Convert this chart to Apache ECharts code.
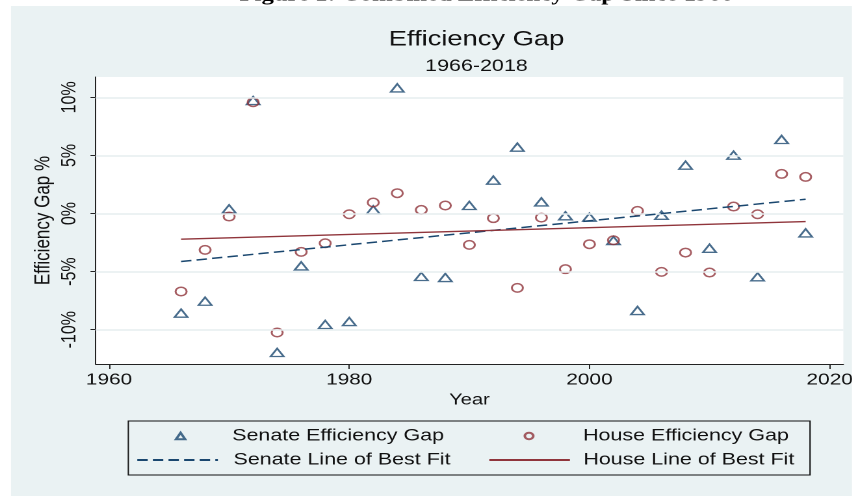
<!DOCTYPE html>
<html>
<head>
<meta charset="utf-8">
<script src="https://cdn.jsdelivr.net/npm/echarts@6/dist/echarts.min.js"></script>
<style>
  html, body { margin: 0; padding: 0; background: #fff; overflow: hidden; }
  /* the reference picture is stretched sideways, so the chart is too */
  #main { width: 658.5px; height: 496px; transform: scaleX(1.3); transform-origin: 0 0; }
</style>
</head>
<body>
<div id="main"></div>
<script>
// values
const years = [1966, 1968, 1970, 1972, 1974, 1976, 1978, 1980, 1982, 1984, 1986, 1988, 1990, 1992,
  1994, 1996, 1998, 2000, 2002, 2004, 2006, 2008, 2010, 2012, 2014, 2016, 2018];
const senateGap = [-8.58, -7.55, 0.40, 9.72, -11.96, -4.51, -9.55, -9.30, 0.31, 10.81, -5.42, -5.51, 0.69, 2.87,
  5.71, 1.00, -0.20, -0.32, -2.33, -8.35, -0.15, 4.16, -2.99, 5.02, -5.45, 6.37, -1.67];
const houseGap = [-6.71, -3.13, -0.26, 9.58, -10.24, -3.30, -2.56, -0.06, 0.95, 1.75, 0.31, 0.69, -2.70, -0.40,
  -6.40, -0.35, -4.79, -2.64, -2.30, 0.23, -5.02, -3.36, -5.08, 0.60, -0.06, 3.41, 3.15];
const fitYears = [1966, 2018];
const senateFit = [-4.13, 1.23];
const houseFit = [-2.21, -0.69];
const xTicks = [1960, 1980, 2000, 2020];
const yTicks = [-10, -5, 0, 5, 10];

const navy = "#1a476f";
const maroon = "#90353b";
const bg = "#eaf2f3";
const font = "Liberation Sans";

let myChart = echarts.init(document.getElementById("main"), null, { devicePixelRatio: 2 });

const pairs = (xs, ys) => xs.map((x, i) => [x, ys[i]]);

// one legend per entry, so the 2x2 box lines up like the original
const legendItem = (name, left, top, w, h, pad) => ({
  data: [name], left: left, top: top, padding: 0, itemWidth: w, itemHeight: h,
  textStyle: { fontFamily: font, fontSize: 16.5, color: "#111", lineHeight: 20, padding: [0, 0, 0, pad] }
});

let options = {
  animation: false,
  backgroundColor: "#fff",
  textStyle: { fontFamily: font },
  title: [
    { text: "Efficiency Gap", left: 361.5, top: 24, textAlign: "center",
      textStyle: { fontFamily: font, fontSize: 21, fontWeight: "normal", color: "#111" } },
    { text: "1966-2018", left: 361.5, top: 53, textAlign: "center",
      textStyle: { fontFamily: font, fontSize: 16.5, fontWeight: "normal", color: "#111" } }
  ],
  graphic: [
    { type: "rect", z: -10, shape: { x: 8.46, y: 6, width: 646.9, height: 490 }, style: { fill: bg } },
    { type: "text", z: 100, style: { x: 374, y: 5, text: "Figure 1: Combined Efficiency Gap Since 1966",
      font: "bold 19px 'Liberation Serif'", fill: "#000", align: "center", verticalAlign: "bottom" } },
    { type: "rect", z: 10, shape: { x: 98.7, y: 421, width: 524.4, height: 54 },
      style: { fill: "none", stroke: "#111", lineWidth: 1 } }
  ],
  grid: { left: 73.6, width: 575.6, top: 77, bottom: 132, show: true, backgroundColor: "#fff", borderWidth: 0 },
  legend: [
    legendItem("Senate Efficiency Gap", 134.4, 426, 7, 6.5, 31.2),
    legendItem("House Efficiency Gap", 402.7, 426, 7, 6.5, 33),
    legendItem("Senate Line of Best Fit", 104.6, 450, 62, 8, 7),
    legendItem("House Line of Best Fit", 375.4, 450, 62, 8, 5.3)
  ],
  xAxis: {
    type: "value", min: 1958.89, max: 2021.14,
    name: "Year", nameLocation: "middle", nameGap: 28, nameMoveOverlap: false,
    nameTextStyle: { fontFamily: font, fontSize: 15.5, color: "#111" },
    axisLine: { show: true, onZero: false, lineStyle: { color: "#222", width: 1 } },
    axisTick: { show: true, length: 5, customValues: xTicks, lineStyle: { color: "#222" } },
    axisLabel: { customValues: xTicks, margin: 8, fontSize: 16, color: "#111", fontFamily: font,
      formatter: (v) => String(v) },
    splitLine: { show: false }
  },
  yAxis: {
    type: "value", min: -12.95, max: 11.75,
    name: "Efficiency Gap %", nameLocation: "middle", nameGap: 32, nameMoveOverlap: false,
    nameTextStyle: { fontFamily: font, fontSize: 17, color: "#111" },
    axisLine: { show: true, onZero: false, lineStyle: { color: "#222", width: 1 } },
    axisTick: { show: true, length: 4, customValues: yTicks, lineStyle: { color: "#222" } },
    axisLabel: { customValues: yTicks, rotate: 90, margin: 12, fontSize: 16, color: "#111", fontFamily: font,
      formatter: (v) => v + "%" },
    splitLine: { show: false }
  },
  series: [
    {
      // grid lines only
      name: "grid", type: "line", data: [], z: 1, silent: true,
      markLine: {
        silent: true, symbol: "none", label: { show: false },
        lineStyle: { color: "#e6eef0", width: 1.5, type: "solid" },
        data: yTicks.map((v) => ({ yAxis: v }))
      }
    },
    {
      name: "Senate Efficiency Gap", type: "scatter", symbol: "triangle", symbolSize: [10, 8],
      data: pairs(years, senateGap), z: 3,
      itemStyle: { color: "transparent", borderColor: navy, borderWidth: 1.5 }
    },
    {
      name: "House Efficiency Gap", type: "scatter", symbol: "circle", symbolSize: 8.5,
      data: pairs(years, houseGap), z: 4,
      itemStyle: { color: "transparent", borderColor: maroon, borderWidth: 1.5 }
    },
    {
      name: "Senate Line of Best Fit", type: "line", symbol: "none", z: 5,
      data: pairs(fitYears, senateFit),
      lineStyle: { color: navy, width: 1.5, type: [8, 4] }, itemStyle: { color: "transparent", borderWidth: 0 }
    },
    {
      name: "House Line of Best Fit", type: "line", symbol: "none", z: 6,
      data: pairs(fitYears, houseFit),
      lineStyle: { color: maroon, width: 1.3, type: "solid" }, itemStyle: { color: "transparent", borderWidth: 0 }
    }
  ]
};

myChart.setOption(options);
</script>
</body>
</html>
